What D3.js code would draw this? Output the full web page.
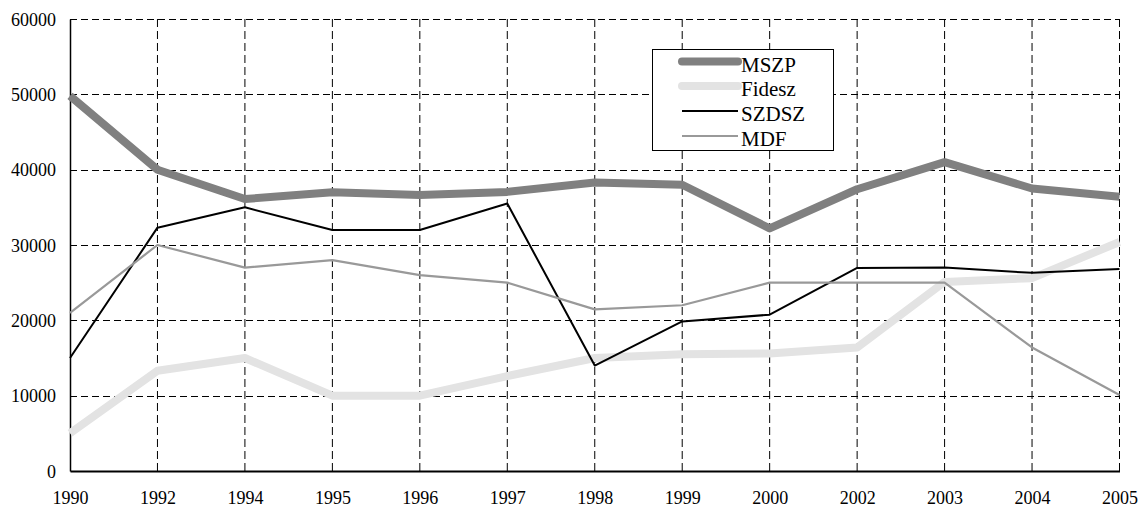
<!DOCTYPE html>
<html><head><meta charset="utf-8">
<script src="https://cdn.jsdelivr.net/npm/d3@7"></script>
<style>body{margin:0;background:#fff}svg{display:block}</style>
</head><body>
<svg id="c" width="1140" height="508"></svg>
<script>
const years = ["1990","1992","1994","1995","1996","1997","1998","1999","2000","2002","2003","2004","2005"];
const mszp   = [49800,40000,36100,37000,36650,37050,38300,38000,32200,37400,41000,37500,36400];
const fidesz = [5000,13300,15000,10000,10000,12600,15000,15500,15600,16400,25100,25600,30400];
const szdsz  = [15000,32300,35000,32000,32000,35500,14000,19850,20750,26950,27000,26300,26800];
const mdf    = [21000,30000,27000,28000,26000,25000,21450,22000,25000,25000,25000,16400,10100];
const yTicks = [0,10000,20000,30000,40000,50000,60000];
const seriesNames = ["MSZP","Fidesz","SZDSZ","MDF"];

const series = [
  {name: seriesNames[0], values: mszp,   color: "#808080", width: 8},
  {name: seriesNames[1], values: fidesz, color: "#e3e3e3", width: 8},
  {name: seriesNames[2], values: szdsz,  color: "#000000", width: 2},
  {name: seriesNames[3], values: mdf,    color: "#999999", width: 2.2}
];

const svg = d3.select("#c");
const L = 70, R = 1119.5, T = 19, B = 471;
const x = d3.scalePoint().domain(years).range([L, R]);
const y = d3.scaleLinear().domain([0, 60000]).range([B, T]);
const font = "'Liberation Serif','Times New Roman',serif";

// horizontal gridlines
svg.append("g").selectAll("line").data(yTicks.filter(d => d > 0)).join("line")
  .attr("x1", L).attr("x2", R).attr("y1", d => Math.round(y(d)) + 0.5).attr("y2", d => Math.round(y(d)) + 0.5)
  .attr("stroke", "#000").attr("stroke-width", 1).attr("stroke-dasharray", "7,4");
// vertical gridlines
svg.append("g").selectAll("line").data(years.slice(1)).join("line")
  .attr("x1", d => x(d)).attr("x2", d => x(d)).attr("y1", T).attr("y2", B)
  .attr("stroke", "#000").attr("stroke-width", 1).attr("stroke-dasharray", "8,4");

// axes
const yAxis = d3.axisLeft(y).tickValues(yTicks).tickSize(0).tickPadding(14).tickFormat(d3.format("d"));
const gy = svg.append("g").attr("transform", `translate(${L},0)`).call(yAxis);
gy.select(".domain").attr("stroke", "#000").attr("stroke-width", 1.5);
gy.selectAll("text").attr("font-family", font).attr("font-size", 18).attr("fill", "#000").attr("dy", "0.35em");

const xAxis = d3.axisBottom(x).tickSize(0).tickPadding(20);
const gx = svg.append("g").attr("transform", `translate(0,${B})`).call(xAxis);
gx.select(".domain").attr("stroke", "#000").attr("stroke-width", 2);
gx.selectAll("text").attr("font-family", font).attr("font-size", 18).attr("fill", "#000");

// lines
const line = d3.line().x((d, i) => x(years[i])).y(d => y(d));
svg.append("g").selectAll("path").data(series).join("path")
  .attr("d", d => line(d.values)).attr("fill", "none")
  .attr("stroke", d => d.color).attr("stroke-width", d => d.width)
  .attr("stroke-linejoin", "round");

// legend
const lg = svg.append("g");
lg.append("rect").attr("x", 652.5).attr("y", 49.5).attr("width", 181).attr("height", 101)
  .attr("fill", "#fff").attr("stroke", "#000").attr("stroke-width", 1);
const rows = [61.5, 86, 111, 136];
series.forEach((s, i) => {
  lg.append("line").attr("x1", 682).attr("x2", 738).attr("y1", rows[i]).attr("y2", rows[i])
    .attr("stroke", s.color).attr("stroke-width", s.width).attr("stroke-linecap", s.width > 4 ? "round" : "butt");
  lg.append("text").attr("x", 741).attr("y", rows[i] + 10).text(s.name)
    .attr("font-family", font).attr("font-size", 21).attr("fill", "#000");
});
</script>
</body></html>
